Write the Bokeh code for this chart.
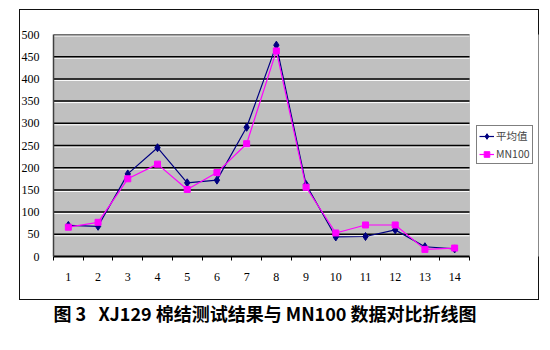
from bokeh.plotting import figure
from bokeh.models import (Range1d, FixedTicker, Legend, LegendItem,
                          Title, ColumnDataSource, BoxAnnotation)
from bokeh.embed import file_html
from bokeh.resources import INLINE

categories = ["1", "2", "3", "4", "5", "6", "7", "8", "9", "10", "11", "12", "13", "14"]
avg_values = [70, 68, 186, 245, 166, 172, 291, 476, 162, 44, 45, 60, 22, 17]
mn100_values = [66, 77, 175, 208, 151, 189, 254, 463, 156, 53, 71, 71, 16, 19]
y_ticks = [0, 50, 100, 150, 200, 250, 300, 350, 400, 450, 500]
series_names = ["平均值", "MN100"]
title_text = "图 3\u00a0\u00a0\u00a0XJ129 棉结测试结果与 MN100 数据对比折线图"

n = len(categories)
xs = list(range(1, n + 1))
src = ColumnDataSource(dict(x=xs, avg=avg_values, mn=mn100_values))
grid_src = ColumnDataSource(dict(y=y_ticks[1:], x0=[0.5] * (len(y_ticks) - 1),
                                 x1=[n + 0.5] * (len(y_ticks) - 1)))

W, H = 550, 350
FL, PR, FR, FT, FB = 53, 469, 538, 34, 256   # PR = right edge of grey plot area
unit = (PR - FL) / n
x_end = 0.5 + (FR - FL) / unit

p = figure(width=W, height=H, output_backend="svg", toolbar_location=None,
           x_range=Range1d(0.5, x_end), y_range=Range1d(0, 500),
           min_border_left=FL, min_border_right=W - FR,
           min_border_top=FT, min_border_bottom=H - FB)
p.background_fill_color = "white"
p.border_fill_color = None
p.outline_line_color = None
p.grid.grid_line_color = None

# outer chart border, drawn as the page background behind the transparent border
g = "linear-gradient(#111,#111)"
p.styles = {"background": ", ".join([
    f"{g} 19px 9px / 519px 1px no-repeat",
    f"{g} 19px 299px / 519px 1px no-repeat",
    f"{g} 19px 9px / 1px 291px no-repeat",
    f"{g} 538px 9px / 1px 291px no-repeat",
]) + ", white"}

# grey plot area
p.add_layout(BoxAnnotation(left=0.5, right=n + 0.5, bottom=0, top=500,
                           fill_color="#C0C0C0", fill_alpha=1,
                           line_color="#808080", line_width=1, level="underlay"))

# horizontal grid: black line with white highlight below
shift = 500 / (FB - FT) * 1.5
p.extra_y_ranges = {"shift": Range1d(shift, 500 + shift)}
p.segment("x0", "y", "x1", "y", source=grid_src, y_range_name="shift",
          line_color="white", line_width=1)
p.segment("x0", "y", "x1", "y", source=grid_src, line_color="black", line_width=1.5)

# x axis: labels at centres, ticks between categories
p.xaxis.ticker = FixedTicker(ticks=xs, minor_ticks=[x - 0.5 for x in xs] + [xs[-1] + 0.5])
p.xaxis.bounds = (0.5, n + 0.5)
p.xaxis.major_label_overrides = {x: c for x, c in zip(xs, categories)}
p.xaxis.major_tick_line_color = None
p.xaxis.major_tick_out = 4
p.xaxis.minor_tick_line_color = "black"
p.xaxis.minor_tick_in = 0
p.xaxis.minor_tick_out = 4
p.xaxis.axis_line_color = "black"
p.xaxis.axis_line_width = 2
p.xaxis.major_label_standoff = 12
p.xaxis.major_label_text_font = "Liberation Serif"
p.xaxis.major_label_text_font_size = "12px"
p.xaxis.major_label_text_color = "black"

p.yaxis.ticker = FixedTicker(ticks=y_ticks)
p.yaxis.axis_line_color = "#404040"
p.yaxis.axis_line_width = 1.5
p.yaxis.major_tick_line_color = None
p.yaxis.minor_tick_line_color = None
p.yaxis.major_label_standoff = 8
p.yaxis.major_label_text_font = "Liberation Serif"
p.yaxis.major_label_text_font_size = "12px"
p.yaxis.major_label_text_color = "black"

l1 = p.line("x", "avg", source=src, line_color="#000080", line_width=1.2)
m1 = p.scatter("x", "avg", source=src, marker="diamond", size=8,
               fill_color="#000080", line_color="#000080")
l2 = p.line("x", "mn", source=src, line_color="#FF00FF", line_width=1.2)
m2 = p.scatter("x", "mn", source=src, marker="square", size=6,
               fill_color="#FF00FF", line_color="#FF00FF")

legend = Legend(items=[LegendItem(label=series_names[0], renderers=[l1, m1]),
                       LegendItem(label=series_names[1], renderers=[l2, m2])],
                location=(476 - FL, FB - 164))
legend.border_line_color = "black"
legend.border_line_width = 1
legend.background_fill_color = "white"
legend.background_fill_alpha = 1
legend.label_text_font = "Noto Sans CJK SC"
legend.label_text_font_size = "10.5px"
legend.label_height = 14
legend.glyph_height = 14
legend.glyph_width = 15
legend.spacing = 3
legend.padding = 2
legend.margin = 0
legend.label_standoff = 2
p.add_layout(legend, "center")

# empty spacer title keeps the caption clear of the x axis labels
p.add_layout(Title(text="\u00a0", standoff=0, text_font_size="11px"), "below")
p.add_layout(Title(text=title_text, align="left", offset=0, standoff=0,
                   text_font="Noto Sans CJK SC", text_font_style="bold",
                   text_font_size="18px", text_color="black"), "below")

open("out.html", "w").write(file_html(p, INLINE))
